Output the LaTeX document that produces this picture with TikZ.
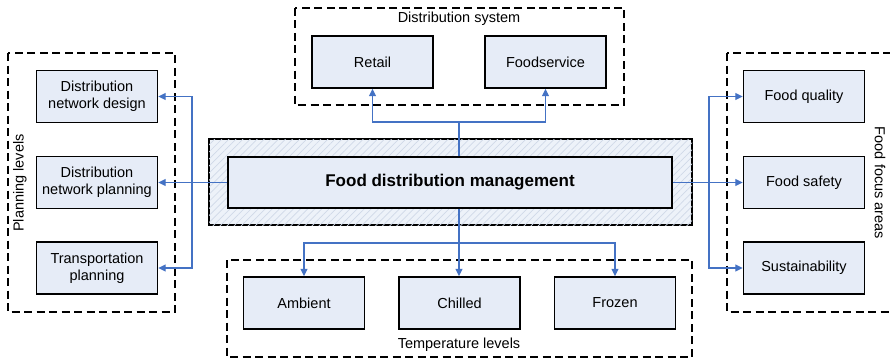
\documentclass[tikz,border=0pt]{standalone}
\usepackage{fontspec}
\setmainfont{Liberation Sans}
\usetikzlibrary{arrows.meta,patterns.meta}
\definecolor{boxfill}{RGB}{230,236,247}
\definecolor{linkblue}{RGB}{68,114,196}
\definecolor{hatchcol}{RGB}{208,217,232}

\begin{document}
\begin{tikzpicture}[x=1pt,y=-1pt,
	box/.style={draw,line width=1.4pt,fill=boxfill,minimum width=121pt,minimum height=52pt,align=center,font=\fontsize{14.5}{17}\selectfont},
	group/.style={draw,line width=1.8pt,dash pattern=on 8pt off 4.5pt},
	lbl/.style={font=\fontsize{14.5}{17}\selectfont},
	link/.style={draw=linkblue,line width=1.3pt},
	arr/.style={link,-{Triangle[length=7.5pt,width=7pt]}}]
	\clip (0,0) rectangle (890,361);

	% dashed groups
	\draw[group] (8,53) rectangle (175,312);
	\draw[group] (295,8) rectangle (624,105);
	\draw[group] (227,260) rectangle (692,357);
	\draw[group] (727,53) rectangle (900,312);
	\node[lbl,rotate=90] (pl) at (20,183) {Planning levels};
	\node[lbl] (ds) at (459,19) {Distribution system};
	\node[lbl] (tl) at (459,345) {Temperature levels};
	\node[lbl,rotate=-90] (ffa) at (880,183) {Food focus areas};

	% core
	\node[draw,line width=1.3pt,fill=boxfill!70,minimum width=483pt,minimum height=86pt,
		postaction={pattern={Lines[angle=45,distance=5pt,line width=0.7pt]},pattern color=hatchcol}] (core) at (450.5,182) {};
	\node[box,minimum width=444pt,minimum height=51pt,font=\fontsize{17}{20}\selectfont\bfseries] (fdm) at (450,182.5) {Food distribution management};

	\node[box] (dnd) at (97,96.5) {Distribution\\network design};
	\node[box] (dnp) at (97,182.5) {Distribution\\network planning};
	\node[box] (tp) at (97,268) {Transportation\\planning};

	\node[box] (retail) at (372.5,62) {Retail};
	\node[box] (fsvc) at (545.5,62) {Foodservice};

	\node[box] (ambient) at (304,303) {Ambient};
	\node[box] (chilled) at (459.5,303) {Chilled};
	\node[box] (frozen) at (615,303) {Frozen};

	\node[box] (fq) at (804,96.5) {Food quality};
	\node[box] (fs) at (804,182.5) {Food safety};
	\node[box] (sus) at (804,268) {Sustainability};

	\coordinate (lj) at (192,182.5);
	\coordinate (tj) at (459,122);
	\coordinate (bj) at (459,243);
	\coordinate (rj) at (709,182.5);

	% links
	\draw[link] (fdm.west) -- (lj);
	\draw[arr] (lj) |- (dnd.east);
	\draw[arr] (lj) -- (dnp.east);
	\draw[arr] (lj) |- (tp.east);

	\draw[link] (tj |- fdm.north) -- (tj);
	\draw[arr] (tj) -| (retail.south);
	\draw[arr] (tj) -| (fsvc.south);

	\draw[link] (bj |- fdm.south) -- (bj);
	\draw[arr] (bj) -| (ambient.north);
	\draw[arr] (bj) -- (bj |- chilled.north);
	\draw[arr] (bj) -| (frozen.north);

	\draw[link] (fdm.east) -- (rj);
	\draw[arr] (rj) |- (fq.west);
	\draw[arr] (rj) -- (fs.west);
	\draw[arr] (rj) |- (sus.west);
\end{tikzpicture}
\end{document}
